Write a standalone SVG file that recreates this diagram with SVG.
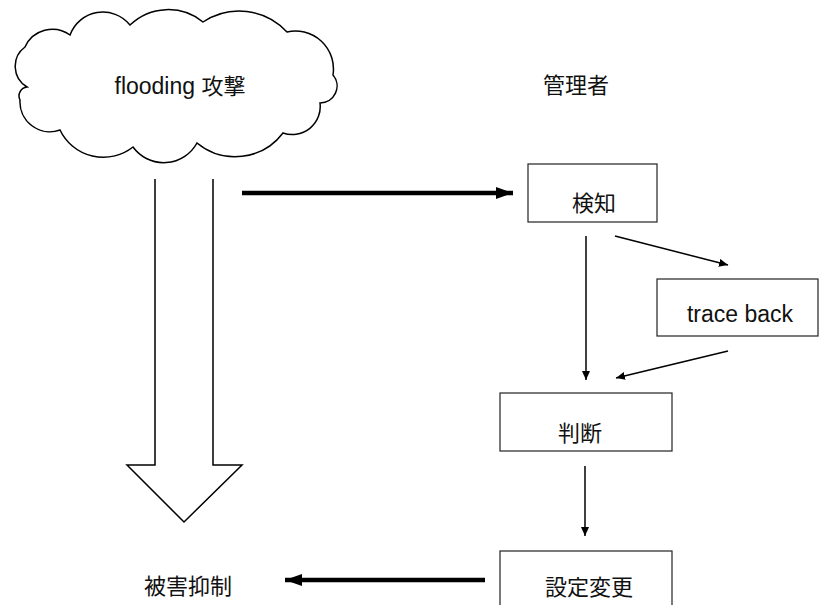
<svg xmlns="http://www.w3.org/2000/svg" width="819" height="605" viewBox="0 0 819 605">
<style>
.t{font-family:"Liberation Sans","Noto Sans CJK JP",sans-serif;font-size:22px;fill:#111;text-anchor:middle}
.l{font-size:23px}
.box{fill:#fff;stroke:#222;stroke-width:1.2}
.thin{stroke:#000;stroke-width:1.5;fill:none}
.thick{stroke:#000;stroke-width:4.5;fill:none}
</style>
<defs>
<marker id="ah" markerUnits="userSpaceOnUse" markerWidth="9" markerHeight="8" refX="9" refY="4" orient="auto"><path d="M0,0 L9,4 L0,8 z" fill="#000"/></marker>
<marker id="ahb" markerUnits="userSpaceOnUse" markerWidth="17" markerHeight="12" refX="17" refY="6" orient="auto"><path d="M0,0 L17,6 L0,12 z" fill="#000"/></marker>
</defs>
<g id="cloud">
<path d="M25,47 A30,30 0 0 1 70,35 A35,35 0 0 1 130,25 A55,55 0 0 1 203,22 A65,65 0 0 1 287,32 A38,38 0 0 1 333,75 A17,17 0 0 1 320,103 A28,28 0 0 1 283,133 A60,60 0 0 1 197,143 A38,38 0 0 1 133,147 A48,48 0 0 1 60,130 A30,30 0 0 1 20,100 A9,9 0 0 1 27,87 A24,24 0 0 1 25,47 Z" fill="#fff" stroke="#000" stroke-width="1.5"/>
<text class="t" x="180" y="94"><tspan class="l">flooding </tspan>攻撃</text>
</g>
<g id="admin"><text class="t" x="576" y="93">管理者</text></g>
<g id="bigarrow">
<path d="M155,179 V465 H127 L184,522 L242,465 H213 V179" fill="#fff" stroke="#000" stroke-width="1.5"/>
</g>
<g id="detect"><rect class="box" x="528" y="164" width="129" height="58"/><text class="t" x="594" y="211">検知</text></g>
<g id="traceback"><rect class="box" x="657" y="279" width="161" height="57"/><text class="t l" x="740" y="322">trace back</text></g>
<g id="judge"><rect class="box" x="500" y="393" width="172" height="58"/><text class="t" x="580" y="441">判断</text></g>
<g id="config"><rect class="box" x="500" y="551" width="172" height="70"/><text class="t" x="589" y="595">設定変更</text></g>
<g id="suppress"><text class="t" x="188" y="594">被害抑制</text></g>
<g id="connectors">
<line class="thick" x1="242" y1="193" x2="513" y2="193" marker-end="url(#ahb)"/>
<line class="thick" x1="485" y1="580" x2="285" y2="580" marker-end="url(#ahb)"/>
<line class="thin" x1="586" y1="236" x2="586" y2="380" marker-end="url(#ah)"/>
<line class="thin" x1="615" y1="236" x2="728" y2="265" marker-end="url(#ah)"/>
<line class="thin" x1="728" y1="351" x2="616" y2="378" marker-end="url(#ah)"/>
<line class="thin" x1="585" y1="466" x2="585" y2="536" marker-end="url(#ah)"/>
</g>
</svg>
